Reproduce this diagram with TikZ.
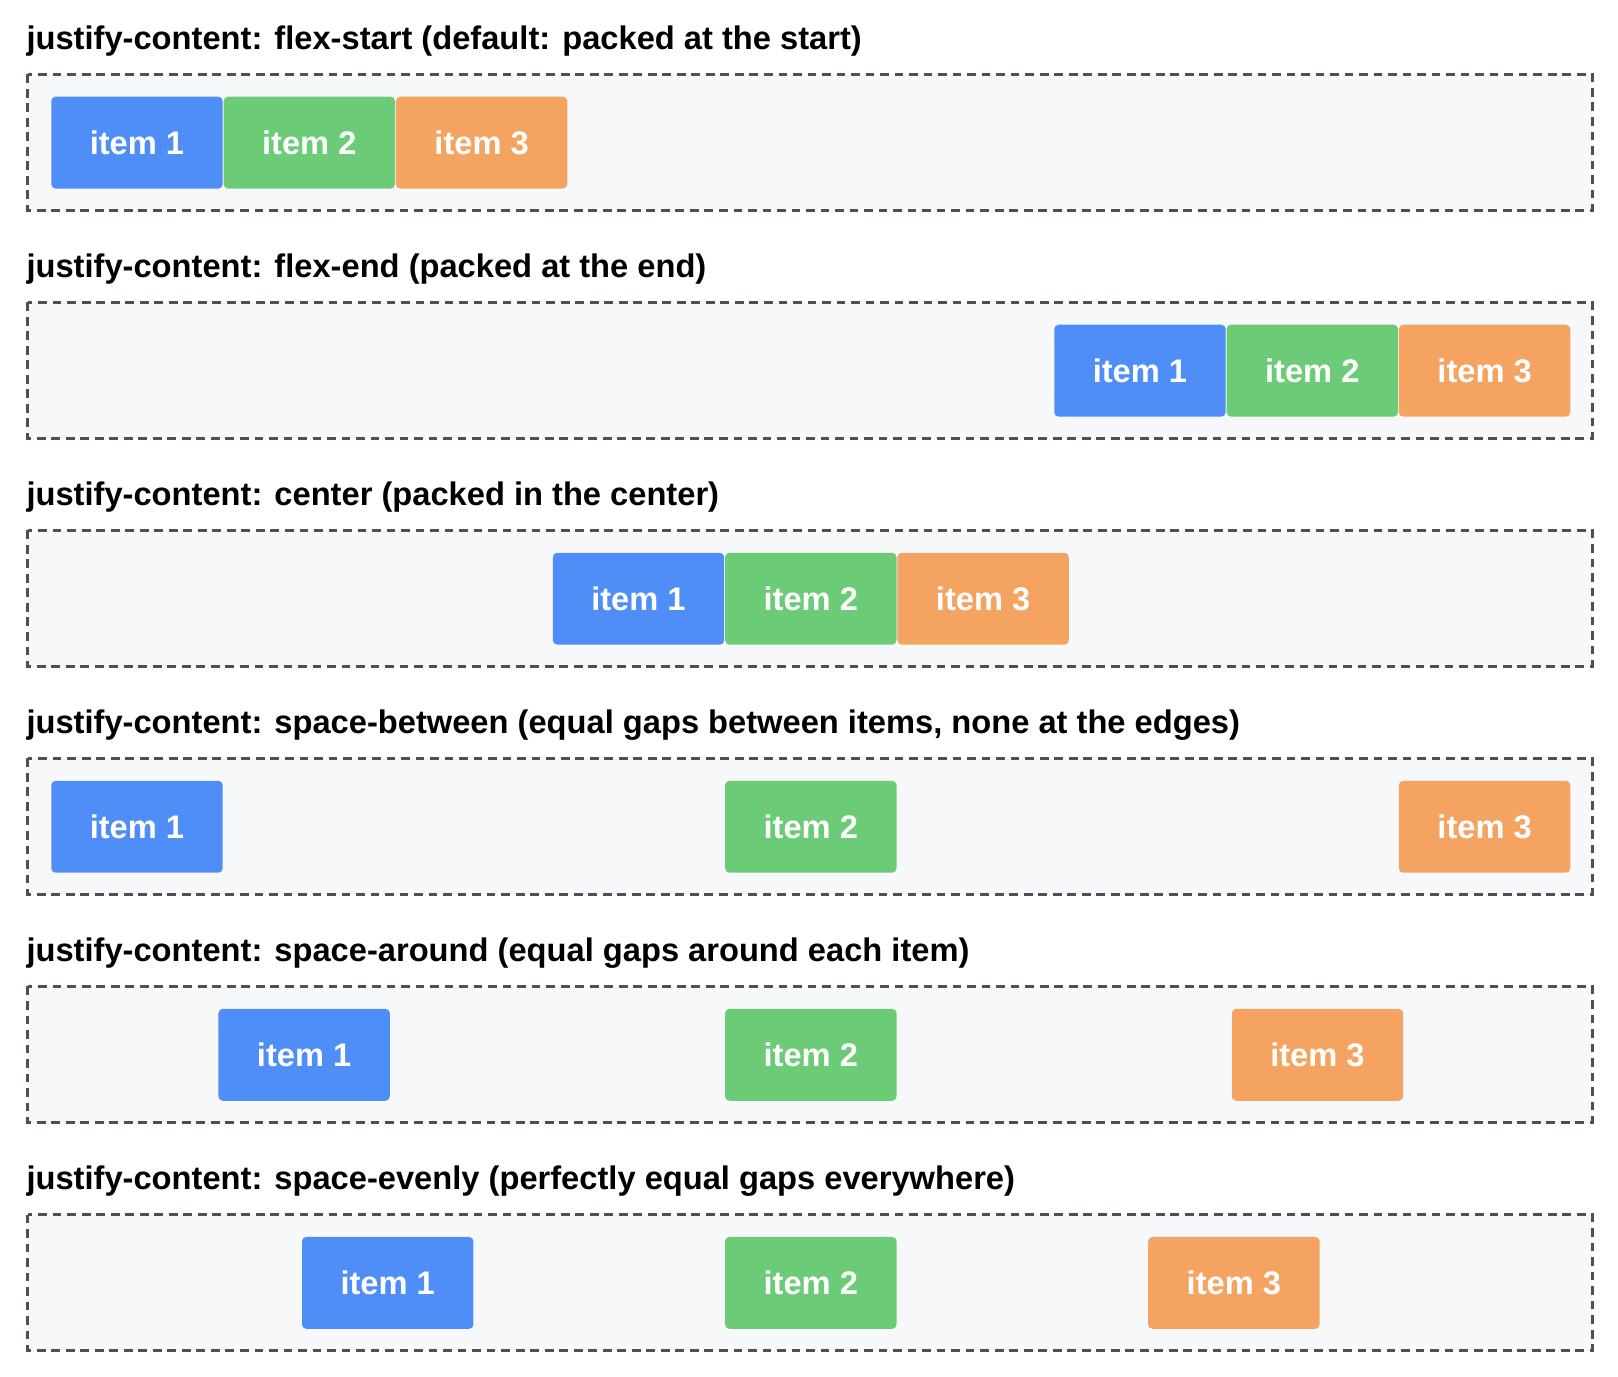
\documentclass[tikz,border=0pt]{standalone}
\usepackage{fontspec}
\setmainfont{Liberation Sans}
\usetikzlibrary{positioning}
\definecolor{itemblue}{HTML}{4F8EF7}
\definecolor{itemgreen}{HTML}{6BCB77}
\definecolor{itemorange}{HTML}{F4A460}
\definecolor{boxbg}{HTML}{F7F8FA}
\definecolor{boxline}{HTML}{4B5058}
\begin{document}
\begin{tikzpicture}[x=0.01cm,y=-0.01cm,
   container/.style = {draw=boxline, fill=boxbg, line width=0.9pt, dash pattern=on 2.4pt off 1.6pt},
   item/.style = {rounded corners=1.2pt, minimum width=1.66cm, minimum height=0.89cm,
                  anchor=north west, text=white, font=\fontsize{9}{10}\selectfont\bfseries, inner sep=0pt},
   title/.style = {anchor=base west, inner sep=0pt, font=\fontsize{9}{10}\selectfont\bfseries}
                        ]
\useasboundingbox (0,0) rectangle (1568,1334);
\foreach \r/\t/\xa/\xb/\xc [count=\i] in {
   0/{flex-start (default: packed at the start)}/49/216/383,
   221/{flex-end (packed at the end)}/1021/1188/1355,
   442/{center (packed in the center)}/535/702/869,
   663/{space-between (equal gaps between items, none at the edges)}/49/702/1355,
   884/{space-around (equal gaps around each item)}/211/702/1193,
   1105/{space-evenly (perfectly equal gaps everywhere)}/292/702/1112}{
  \node (title\i) [title] at (25,\r+48) {justify-content: \t};
  \draw [container] (27,\r+72) rectangle (1543,\r+204);
  \node (a\i) [item, fill=itemblue] at (\xa,\r+93) {item 1};
  \node (b\i) [item, fill=itemgreen] at (\xb,\r+93) {item 2};
  \node (c\i) [item, fill=itemorange] at (\xc,\r+93) {item 3};
}
\end{tikzpicture}
\end{document}
